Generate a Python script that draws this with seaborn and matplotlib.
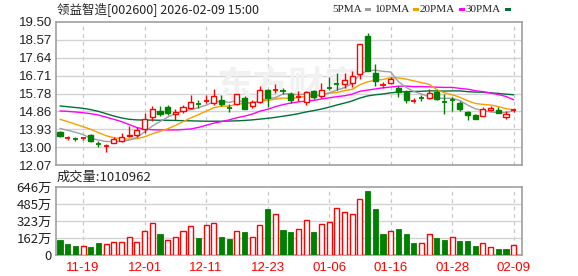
import numpy as np
import pandas as pd
import matplotlib
matplotlib.use("Agg")
import matplotlib.pyplot as plt
from matplotlib.patches import Rectangle
import seaborn as sns

# ---------------- data ----------------
dates = ["11-14", "11-17", "11-18", "11-19", "11-20", "11-21", "11-24", "11-25", "11-26", "11-27",
         "11-28", "12-01", "12-02", "12-03", "12-04", "12-05", "12-08", "12-09", "12-10", "12-11",
         "12-12", "12-15", "12-16", "12-17", "12-18", "12-19", "12-22", "12-23", "12-24", "12-25",
         "12-26", "12-29", "12-30", "12-31", "01-05", "01-06", "01-07", "01-08", "01-09", "01-12",
         "01-13", "01-14", "01-15", "01-16", "01-19", "01-20", "01-21", "01-22", "01-23", "01-26",
         "01-27", "01-28", "01-29", "01-30", "02-02", "02-03", "02-04", "02-05", "02-06", "02-09"]
opens = [13.80, 13.45, 13.46, 13.44, 13.62, 13.18, 13.05, 13.24, 13.33, 13.59,
         13.64, 13.95, 14.55, 14.90, 15.07, 14.70, 14.86, 15.06, 15.25, 15.38,
         15.30, 15.46, 15.08, 15.24, 15.57, 15.16, 15.37, 15.97, 15.96, 15.96,
         15.78, 15.57, 15.36, 15.91, 15.66, 16.10, 16.33, 16.28, 16.34, 16.78,
         18.76, 16.83, 16.17, 16.34, 16.09, 15.88, 15.36, 15.58, 15.57, 15.88,
         15.39, 15.47, 15.28, 14.84, 14.67, 14.64, 14.93, 14.93, 14.59, 14.91]
highs = [13.85, 13.57, 13.55, 13.55, 13.68, 13.31, 13.17, 13.55, 13.73, 14.10,
         14.07, 14.80, 15.14, 15.14, 15.17, 14.97, 15.21, 15.71, 15.45, 15.72,
         16.01, 15.71, 15.23, 15.78, 15.64, 15.45, 16.18, 16.02, 16.28, 16.05,
         15.88, 15.93, 15.93, 15.97, 16.31, 16.62, 16.83, 16.83, 16.97, 18.36,
         18.93, 17.29, 16.40, 16.66, 16.19, 15.97, 15.54, 15.71, 16.00, 15.97,
         15.76, 15.62, 15.38, 14.90, 14.72, 15.07, 15.12, 15.07, 14.90, 15.02]
lows = [13.52, 13.38, 13.32, 13.36, 13.28, 13.02, 12.78, 13.22, 13.28, 13.52,
        13.55, 13.76, 14.38, 14.62, 14.69, 14.43, 14.76, 14.97, 15.04, 15.28,
        15.17, 15.14, 14.84, 15.17, 14.97, 15.02, 15.28, 15.08, 15.83, 15.78,
        15.28, 15.40, 15.17, 15.50, 15.54, 15.97, 15.95, 16.05, 16.14, 16.52,
        16.95, 16.19, 16.07, 16.30, 15.59, 15.28, 15.28, 15.38, 15.50, 15.45,
        14.72, 14.90, 14.90, 14.41, 14.47, 14.60, 14.86, 14.76, 14.47, 14.84]
closes = [13.60, 13.48, 13.44, 13.47, 13.33, 13.16, 13.08, 13.45, 13.52, 13.64,
          13.90, 14.45, 14.97, 14.71, 14.76, 14.82, 15.08, 15.36, 15.22, 15.41,
          15.68, 15.24, 15.06, 15.75, 14.98, 15.37, 15.95, 15.56, 15.99, 15.93,
          15.45, 15.61, 15.85, 15.62, 15.97, 16.07, 16.30, 16.48, 16.69, 18.36,
          16.97, 16.43, 16.21, 16.55, 15.86, 15.45, 15.40, 15.56, 15.83, 15.49,
          15.37, 15.45, 14.97, 14.69, 14.47, 14.97, 15.05, 14.79, 14.71, 14.94]
ma5 = [13.98, 13.88, 13.78, 13.66, 13.46, 13.38, 13.30, 13.30, 13.31, 13.37,
       13.52, 13.79, 14.10, 14.33, 14.56, 14.74, 14.87, 14.95, 15.05, 15.18,
       15.35, 15.38, 15.32, 15.43, 15.34, 15.28, 15.42, 15.52, 15.57, 15.76,
       15.78, 15.71, 15.77, 15.69, 15.70, 15.82, 15.96, 16.09, 16.30, 16.78,
       16.96, 16.99, 16.93, 16.90, 16.40, 16.10, 15.89, 15.76, 15.62, 15.55,
       15.53, 15.54, 15.42, 15.19, 14.99, 14.91, 14.83, 14.79, 14.80, 14.89]
ma10 = [14.45, 14.33, 14.20, 14.07, 13.93, 13.76, 13.60, 13.50, 13.44, 13.42,
        13.45, 13.54, 13.70, 13.82, 13.96, 14.13, 14.33, 14.52, 14.69, 14.87,
        15.05, 15.13, 15.13, 15.24, 15.26, 15.32, 15.40, 15.42, 15.50, 15.55,
        15.53, 15.57, 15.64, 15.63, 15.73, 15.80, 15.84, 15.93, 16.00, 16.24,
        16.39, 16.47, 16.51, 16.60, 16.59, 16.53, 16.44, 16.35, 16.26, 15.98,
        15.82, 15.72, 15.59, 15.41, 15.27, 15.22, 15.19, 15.11, 15.00, 14.94]
ma20 = [14.88, 14.86, 14.83, 14.79, 14.74, 14.67, 14.56, 14.45, 14.33, 14.18,
        14.02, 13.94, 13.91, 13.90, 13.90, 13.90, 13.92, 13.95, 14.03, 14.14,
        14.25, 14.33, 14.42, 14.53, 14.61, 14.72, 14.87, 14.97, 15.10, 15.21,
        15.29, 15.35, 15.39, 15.43, 15.50, 15.56, 15.62, 15.67, 15.75, 15.90,
        15.96, 16.02, 16.08, 16.12, 16.16, 16.17, 16.14, 16.14, 16.13, 16.11,
        16.10, 16.10, 16.05, 16.01, 15.93, 15.88, 15.81, 15.73, 15.63, 15.46]
ma30 = [15.14, 15.10, 15.06, 15.02, 14.95, 14.86, 14.74, 14.62, 14.52, 14.45,
        14.42, 14.41, 14.41, 14.40, 14.40, 14.39, 14.38, 14.37, 14.36, 14.35,
        14.35, 14.35, 14.36, 14.37, 14.39, 14.42, 14.46, 14.50, 14.55, 14.61,
        14.67, 14.74, 14.83, 14.90, 14.98, 15.08, 15.19, 15.29, 15.40, 15.55,
        15.66, 15.72, 15.76, 15.82, 15.86, 15.88, 15.89, 15.90, 15.92, 15.92,
        15.91, 15.92, 15.92, 15.88, 15.86, 15.85, 15.82, 15.79, 15.75, 15.72]
volumes = [147, 109, 90, 88, 78, 119, 109, 125, 125, 172,
           125, 229, 304, 203, 144, 172, 229, 276, 166, 285,
           304, 175, 156, 229, 222, 172, 285, 439, 392, 241,
           222, 248, 333, 222, 295, 314, 446, 408, 389, 530,
           606, 436, 203, 229, 248, 203, 119, 119, 200, 166,
           147, 172, 138, 138, 90, 116, 78, 59, 59, 101]  # 万手
vol_up = [0, 0, 0, 1, 0, 0, 1, 1, 1, 1,
          1, 1, 1, 0, 1, 1, 1, 1, 0, 1,
          1, 0, 0, 1, 0, 1, 1, 0, 1, 0,
          0, 1, 1, 0, 1, 1, 1, 1, 1, 1,
          0, 0, 0, 1, 0, 0, 0, 1, 1, 0,
          0, 1, 0, 0, 0, 1, 1, 0, 0, 1]
price_ticks = [12.07, 13.00, 13.93, 14.86, 15.78, 16.71, 17.64, 18.57, 19.50]
vol_ticks = [0, 162, 323, 485, 646]
vol_tick_labels = ["0", "162万", "323万", "485万", "646万"]
date_ticks = ["11-19", "12-01", "12-11", "12-23", "01-06", "01-16", "01-28", "02-09"]
title = "领益智造[002600] 2026-02-09 15:00"
vol_title = "成交量:1010962"
ma_names = ["5PMA", "10PMA", "20PMA", "30PMA"]

# ---------------- style ----------------
sns.set_theme(style="white")
plt.rcParams["font.family"] = ["Noto Sans CJK SC", "DejaVu Sans"]

RED = "#ff0000"
GREEN = "#008000"
MA_COLORS = ["#a0a0a0", "#f5a000", "#ff00ff", "#00703a"]
GRID = "#d3d3d3"
SPINE = "#a0a0a0"

df = pd.DataFrame({"date": dates, "open": opens, "high": highs, "low": lows,
                   "close": closes, "ma5": ma5, "ma10": ma10, "ma20": ma20,
                   "ma30": ma30, "vol": volumes, "vol_up": vol_up})
df["x"] = np.arange(len(df))

W, H = 578, 276
fig = plt.figure(figsize=(W / 100, H / 100), dpi=100)
fig.patch.set_facecolor("white")

def ax_rect(left, top, right, bottom):
    return [left / W, 1 - bottom / H, (right - left) / W, (bottom - top) / H]

axp = fig.add_axes(ax_rect(56, 21.7, 522, 165.3))
axv = fig.add_axes(ax_rect(56, 186.7, 522, 255.3))

xlim = (-0.52, len(df) - 1 + 1.08)
tick_pos = [dates.index(d) for d in date_ticks]

for ax in (axp, axv):
    ax.set_xlim(*xlim)
    ax.set_facecolor("white")
    for s in ax.spines.values():
        s.set_color(SPINE)
        s.set_linewidth(1.2)
    ax.tick_params(axis="both", length=0, pad=3)
    for xp in tick_pos:
        ax.axvline(xp, color="#c8c8c8", lw=0.9, ls=(0, (3, 3)), zorder=0)

# ---------- price panel ----------
axp.set_ylim(price_ticks[0], price_ticks[-1])
axp.set_yticks(price_ticks)
axp.set_yticklabels([f"{t:.2f}" for t in price_ticks], fontsize=9.5,
                    family=["Liberation Sans", "DejaVu Sans"], color="#222222")
for t in price_ticks[1:-1]:
    axp.axhline(t, color=GRID, lw=1.0, zorder=0)
axp.set_xticks([])

# watermark
axp.text(0.5, 0.55, "东方财富", transform=axp.transAxes, fontsize=26,
         color="#f1f1f1", ha="center", va="center", fontweight="bold",
         style="italic", zorder=0.5)

# MA lines with seaborn
for name, col in zip(["ma30", "ma20", "ma10", "ma5"], MA_COLORS[::-1]):
    sns.lineplot(data=df, x="x", y=name, ax=axp, color=col, lw=1.0, zorder=2,
                 legend=False)
axp.set_xlabel("")
axp.set_ylabel("")
axp.set_xlim(*xlim)

bw = 0.66
for _, r in df.iterrows():
    up = r["close"] >= r["open"]
    col = RED if up else GREEN
    top = max(r["open"], r["close"])
    bot = min(r["open"], r["close"])
    axp.vlines(r["x"], top, r["high"], color=col, lw=1.0, zorder=3)
    axp.vlines(r["x"], r["low"], bot, color=col, lw=1.0, zorder=3)
    h = max(top - bot, 0.0)
    if h < 0.05:
        axp.hlines(r["close"], r["x"] - bw / 2, r["x"] + bw / 2, color=col, lw=1.3, zorder=4)
        axp.vlines(r["x"], bot, top, color=col, lw=1.0, zorder=3)
    else:
        axp.add_patch(Rectangle((r["x"] - bw / 2, bot), bw, h,
                                facecolor="white" if up else col,
                                edgecolor=col, lw=1.0, zorder=4))

# ---------- volume panel ----------
axv.set_ylim(0, vol_ticks[-1])
axv.set_yticks(vol_ticks)
axv.set_yticklabels(vol_tick_labels, fontsize=9.5, color="#222222")
for t in vol_ticks[1:-1]:
    axv.axhline(t, color=GRID, lw=1.0, zorder=0)
vbw = 0.66
for _, r in df.iterrows():
    if r["vol_up"]:
        axv.add_patch(Rectangle((r["x"] - vbw / 2, 0), vbw, r["vol"],
                                facecolor="white", edgecolor=RED, lw=1.0, zorder=3))
    else:
        axv.add_patch(Rectangle((r["x"] - vbw / 2, 0), vbw, r["vol"],
                                facecolor=GREEN, edgecolor=GREEN, lw=0.6, zorder=3))
axv.set_xticks(tick_pos)
axv.set_xticklabels(date_ticks, fontsize=9.5, color=RED,
                    family=["Liberation Sans", "DejaVu Sans"])
axv.tick_params(axis="x", pad=5)

# ---------- texts / legend ----------
fig.text(57 / W, 1 - 9 / H, title, fontsize=9.0, va="center", ha="left", color="#222222")
fig.text(57 / W, 1 - 177 / H, vol_title, fontsize=9.5, va="center", ha="left", color="#222222")

leg_end = [362, 410, 455, 501]
mark_x = [365, 413, 459, 505]
for nm, lx, mx, col in zip(ma_names, leg_end, mark_x, MA_COLORS):
    fig.text(lx / W, 1 - 9 / H, nm, fontsize=8.0, va="center", ha="right",
             color="#222222", family=["Liberation Serif", "DejaVu Serif"])
    fig.patches.append(Rectangle((mx / W, 1 - 11 / H), 6 / W, 3.5 / H,
                                 transform=fig.transFigure, facecolor=col,
                                 edgecolor="none", figure=fig, zorder=5))

fig.savefig("out.png", dpi=100, facecolor="white")
